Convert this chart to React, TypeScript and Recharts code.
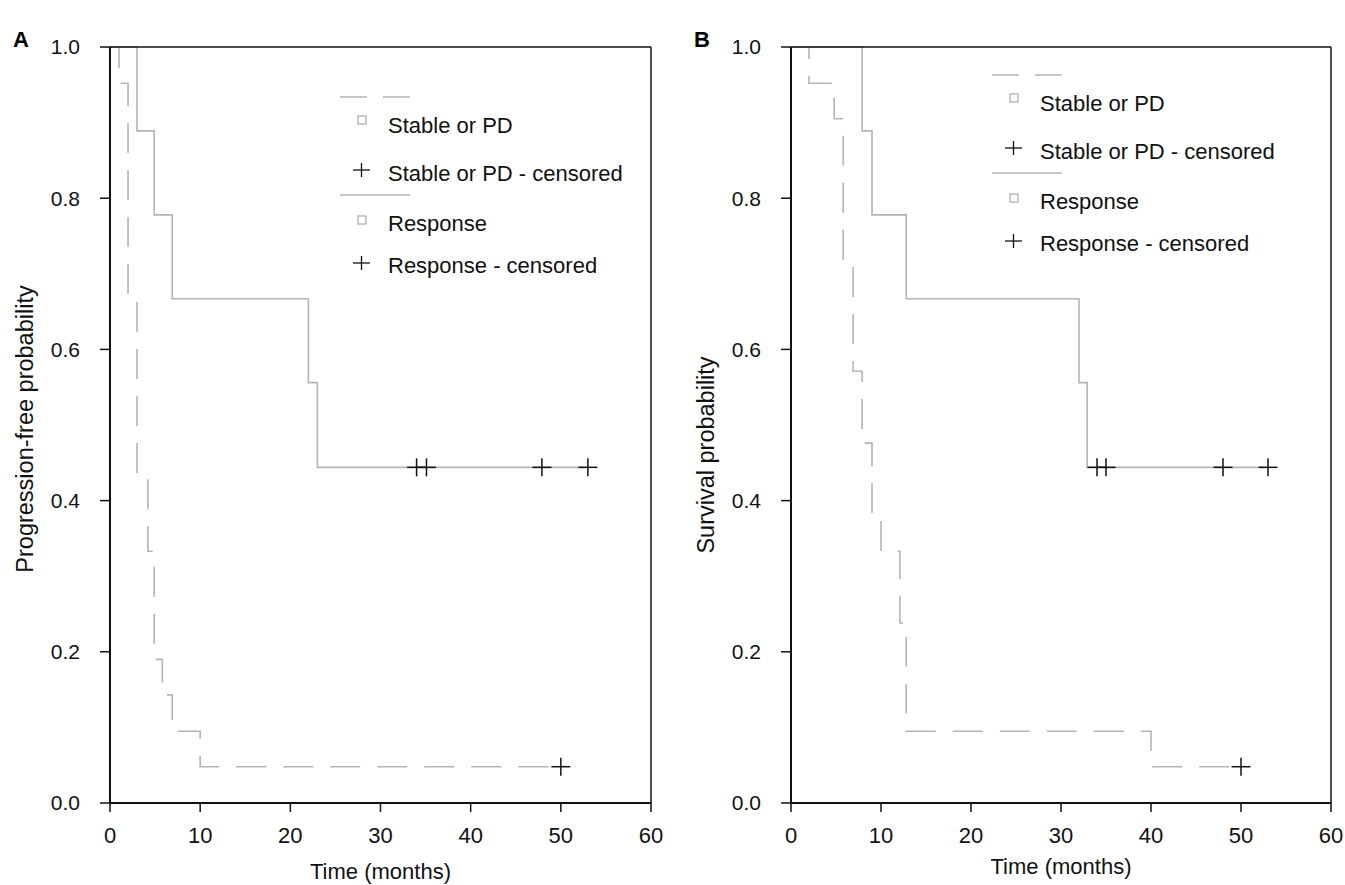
import React from 'react';
import { ComposedChart, Line, Scatter, XAxis, YAxis, ReferenceLine, Legend } from 'recharts';

const xTicks = [0, 10, 20, 30, 40, 50, 60];
const yTicks = [0, 0.2, 0.4, 0.6, 0.8, 1.0];

// A: progression-free
const pfsStableTimes = [0, 1, 2, 3, 4.2, 4.9, 5.8, 6.9, 10, 50];
const pfsStableProb = [1, 0.952, 0.667, 0.429, 0.333, 0.19, 0.143, 0.095, 0.048, 0.048];
const pfsResponseTimes = [0, 3, 4.9, 6.9, 22, 23, 53];
const pfsResponseProb = [1, 0.889, 0.778, 0.667, 0.556, 0.444, 0.444];
const pfsStableCensTimes = [50];
const pfsStableCensProb = [0.048];
const pfsResponseCensTimes = [34, 35.1, 47.9, 53];
const pfsResponseCensProb = [0.444, 0.444, 0.444, 0.444];

// B: survival
const osStableTimes = [0, 2, 4.8, 5.8, 6.9, 7.9, 9, 10, 12.1, 12.8, 40, 50];
const osStableProb = [1, 0.952, 0.905, 0.714, 0.571, 0.476, 0.381, 0.333, 0.238, 0.095, 0.048, 0.048];
const osResponseTimes = [0, 7.9, 9, 12.8, 32, 32.9, 53];
const osResponseProb = [1, 0.889, 0.778, 0.667, 0.556, 0.444, 0.444];
const osStableCensTimes = [50];
const osStableCensProb = [0.048];
const osResponseCensTimes = [34, 35, 48, 53];
const osResponseCensProb = [0.444, 0.444, 0.444, 0.444];

const GREY = '#b4b4b4';
const FONT = '"Liberation Sans", Arial, Helvetica, sans-serif';

const zip = (ts: number[], ps: number[]) => ts.map((t, i) => ({ t, s: ps[i] }));

const Plus = ({ cx, cy }: any) => (
    <g>
        <line x1={cx - 9.5} y1={cy} x2={cx + 9.5} y2={cy} stroke="#111" strokeWidth={1.5} />
        <line x1={cx} y1={cy - 9} x2={cx} y2={cy + 9} stroke="#111" strokeWidth={1.5} />
    </g>
);

const KmLegend = () => (
    <svg width={330} height={200} style={{ overflow: 'visible' }}>
        <line x1={10} y1={17} x2={80} y2={17} stroke={GREY} strokeWidth={1.6} strokeDasharray="27 16" />
        <rect x={28} y={36} width={8} height={8} fill="none" stroke="#999" strokeWidth={1} />
        <text x={58} y={45} dy="0.35em" fontSize={22} fill="#111" fontFamily={FONT}>Stable or PD</text>
        <line x1={23} y1={90} x2={40} y2={90} stroke="#111" strokeWidth={1.3} />
        <line x1={31.5} y1={83} x2={31.5} y2={97} stroke="#111" strokeWidth={1.3} />
        <text x={58} y={93} dy="0.35em" fontSize={22} fill="#111" fontFamily={FONT}>Stable or PD - censored</text>
        <line x1={10} y1={115} x2={80} y2={115} stroke={GREY} strokeWidth={1.6} />
        <rect x={28} y={136} width={8} height={8} fill="none" stroke="#999" strokeWidth={1} />
        <text x={58} y={143} dy="0.35em" fontSize={22} fill="#111" fontFamily={FONT}>Response</text>
        <line x1={23} y1={183} x2={40} y2={183} stroke="#111" strokeWidth={1.3} />
        <line x1={31.5} y1={176} x2={31.5} y2={190} stroke="#111" strokeWidth={1.3} />
        <text x={58} y={185} dy="0.35em" fontSize={22} fill="#111" fontFamily={FONT}>Response - censored</text>
    </svg>
);

interface PanelProps {
    letter: string;
    yLabel: string;
    left: number;
    width: number;
    margin: { top: number; right: number; bottom: number; left: number };
    stable: { t: number; s: number }[];
    response: { t: number; s: number }[];
    stableCens: { t: number; s: number }[];
    responseCens: { t: number; s: number }[];
    legendPos: { left: number; top: number };
    xLabelY: number;
    yLabelY: number;
}

const Panel = ({ letter, yLabel, left, width, margin, stable, response, stableCens, responseCens, legendPos, xLabelY, yLabelY }: PanelProps) => {
    const plotLeft = margin.left + 60;
    const plotRight = width - margin.right;
    const midX = (plotLeft + plotRight) / 2;
    const labelX = plotLeft - 85;
    return (
        <div style={{ position: 'absolute', left, top: 0 }}>
            <div style={{ position: 'absolute', left: plotLeft - 97, top: 28, fontSize: 22, fontWeight: 'bold', fontFamily: FONT, lineHeight: '24px' }}>{letter}</div>
            <ComposedChart width={width} height={885} margin={margin}>
                <XAxis
                    type="number"
                    dataKey="t"
                    domain={[0, 60]}
                    ticks={xTicks}
                    allowDataOverflow
                    height={82}
                    tickSize={9}
                    tickMargin={15}
                    axisLine={{ stroke: '#111', strokeWidth: 2 }}
                    tickLine={{ stroke: '#111', strokeWidth: 1.5 }}
                    tick={{ fill: '#111', fontSize: 22, fontFamily: FONT }}
                    label={() => (
                        <text x={midX} y={xLabelY} textAnchor="middle" dy="0.35em" fontSize={22} fill="#111" fontFamily={FONT}>
                            Time (months)
                        </text>
                    )}
                />
                <YAxis
                    type="number"
                    dataKey="s"
                    domain={[0, 1]}
                    ticks={yTicks}
                    width={60}
                    tickSize={10}
                    tickMargin={20}
                    tickFormatter={(v: number) => v.toFixed(1)}
                    axisLine={{ stroke: '#111', strokeWidth: 2 }}
                    tickLine={{ stroke: '#111', strokeWidth: 1.5 }}
                    tick={{ fill: '#111', fontSize: 21, fontFamily: FONT }}
                    label={() => (
                        <text x={labelX} y={yLabelY} transform={`rotate(-90 ${labelX} ${yLabelY})`} textAnchor="middle" dy="0.35em" fontSize={23.5} fill="#111" fontFamily={FONT}>
                            {yLabel}
                        </text>
                    )}
                />
                <Line data={stable} dataKey="s" type="stepAfter" stroke={GREY} strokeWidth={1.6} strokeDasharray="30 17" dot={false} activeDot={false} isAnimationActive={false} />
                <Line data={response} dataKey="s" type="stepAfter" stroke={GREY} strokeWidth={1.6} dot={false} activeDot={false} isAnimationActive={false} />
                <Scatter data={stableCens} dataKey="s" shape={<Plus />} isAnimationActive={false} />
                <Scatter data={responseCens} dataKey="s" shape={<Plus />} isAnimationActive={false} />
                <ReferenceLine y={1} stroke="#111" strokeWidth={1.5} />
                <ReferenceLine x={60} stroke="#111" strokeWidth={1.5} />
                <Legend
                    layout="vertical"
                    align="center"
                    verticalAlign="middle"
                    content={<KmLegend />}
                    wrapperStyle={{ left: legendPos.left, top: legendPos.top, width: 330, height: 200 }}
                />
            </ComposedChart>
        </div>
    );
};

export default function App() {
    return (
        <div style={{ position: 'absolute', left: 0, top: 0, width: 1345, height: 885, overflow: 'hidden', background: '#fff', fontFamily: FONT }}>
            <Panel
                letter="A"
                yLabel="Progression-free probability"
                left={0}
                width={700}
                margin={{ top: 47, right: 49, bottom: 0, left: 50 }}
                stable={zip(pfsStableTimes, pfsStableProb)}
                response={zip(pfsResponseTimes, pfsResponseProb)}
                stableCens={zip(pfsStableCensTimes, pfsStableCensProb)}
                responseCens={zip(pfsResponseCensTimes, pfsResponseCensProb)}
                legendPos={{ left: 330, top: 80 }}
                xLabelY={871}
                yLabelY={429}
            />
            <Panel
                letter="B"
                yLabel="Survival probability"
                left={680}
                width={665}
                margin={{ top: 47, right: 14, bottom: 0, left: 51 }}
                stable={zip(osStableTimes, osStableProb)}
                response={zip(osResponseTimes, osResponseProb)}
                stableCens={zip(osStableCensTimes, osStableCensProb)}
                responseCens={zip(osResponseCensTimes, osResponseCensProb)}
                legendPos={{ left: 302, top: 58 }}
                xLabelY={866}
                yLabelY={455}
            />
        </div>
    );
}
